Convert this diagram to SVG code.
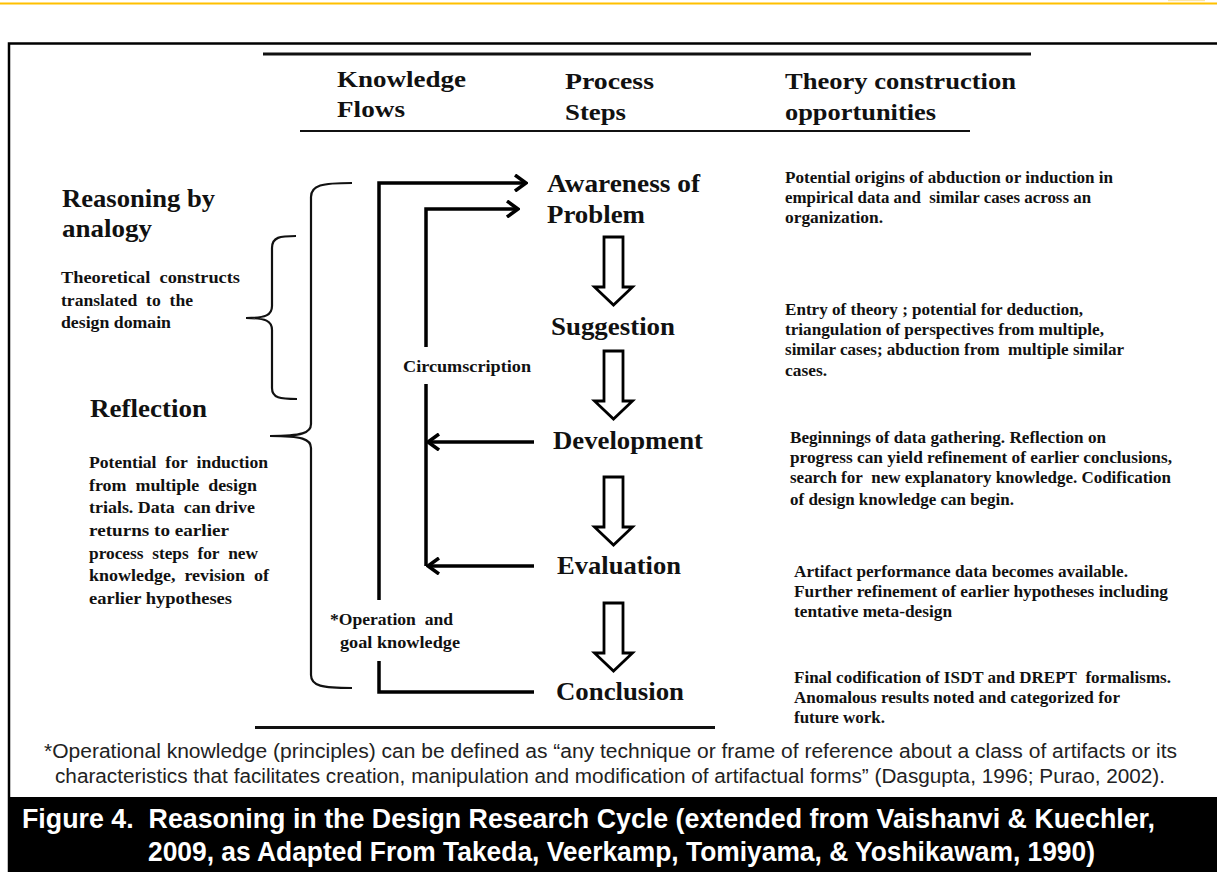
<svg xmlns="http://www.w3.org/2000/svg" width="1217" height="872" viewBox="0 0 1217 872" xml:space="preserve">
  <style>
    .hd { font-family: "Liberation Serif", "Times New Roman", serif; font-weight: bold; font-size: 23.5px; fill: #111; }
    .step { font-family: "Liberation Serif", "Times New Roman", serif; font-weight: bold; font-size: 26px; fill: #111; }
    .big { font-family: "Liberation Serif", "Times New Roman", serif; font-weight: bold; font-size: 25.5px; fill: #111; }
    .sm { font-family: "Liberation Serif", "Times New Roman", serif; font-weight: bold; font-size: 16.5px; fill: #111; }
    .note { font-family: "Liberation Serif", "Times New Roman", serif; font-weight: bold; font-size: 16px; fill: #111; }
    .foot { font-family: "Liberation Sans", Arial, sans-serif; font-size: 19.5px; fill: #222; }
    .cap { font-family: "Liberation Sans", Arial, sans-serif; font-weight: bold; font-size: 28px; fill: #fff; }
    .flow { fill: none; stroke: #000; stroke-width: 3.5; }
    .brace { fill: none; stroke: #111; stroke-width: 2.2; }
    .hollow { fill: #fff; stroke: #000; stroke-width: 2.8; stroke-linejoin: miter; }
    .rule { stroke: #111; fill: none; }
  </style>
  <defs>
    <marker id="open" viewBox="0 0 14 18" refX="12" refY="9" markerWidth="14" markerHeight="18" markerUnits="userSpaceOnUse" orient="auto">
      <path d="M1,1 L12,9 L1,17" fill="none" stroke="#000" stroke-width="3.5"/>
    </marker>
    <path id="downArrow" d="M-9.5,0 L9.5,0 L9.5,50 L19,50 L0,68 L-19,50 L-9.5,50 Z"/>
  </defs>

  <rect width="1217" height="872" fill="#fff"/>
  <!-- page accent line -->
  <rect x="0" y="2.5" width="1217" height="2" fill="#FFC000"/>
  <rect x="1168" y="0" width="37" height="1.2" fill="#FBE7A8"/>

  <!-- figure frame -->
  <path d="M9,872 L9,43.5 L1217,43.5" fill="none" stroke="#000" stroke-width="2.5"/>

  <!-- table rules -->
  <g id="rules">
    <line class="rule" x1="263" y1="54" x2="1031" y2="54" stroke-width="3"/>
    <line class="rule" x1="300" y1="131" x2="970" y2="131" stroke-width="2" stroke="#444"/>
    <line class="rule" x1="255" y1="727.5" x2="715" y2="727.5" stroke-width="3"/>
  </g>

  <!-- column headers -->
  <g id="headers">
    <text class="hd" x="337" y="87" textLength="129" lengthAdjust="spacingAndGlyphs">Knowledge</text>
    <text class="hd" x="337" y="117" textLength="68" lengthAdjust="spacingAndGlyphs">Flows</text>
    <text class="hd" x="565" y="89" textLength="89" lengthAdjust="spacingAndGlyphs">Process</text>
    <text class="hd" x="565" y="120" textLength="61" lengthAdjust="spacingAndGlyphs">Steps</text>
    <text class="hd" x="785" y="89" textLength="231" lengthAdjust="spacingAndGlyphs">Theory construction</text>
    <text class="hd" x="785" y="120" textLength="151" lengthAdjust="spacingAndGlyphs">opportunities</text>
  </g>

  <!-- reasoning labels on the left -->
  <g id="analogy">
    <text class="big" x="62" y="207" textLength="153" lengthAdjust="spacingAndGlyphs">Reasoning by</text>
    <text class="big" x="62" y="237" textLength="90" lengthAdjust="spacingAndGlyphs">analogy</text>
    <text class="sm" x="61" y="283" textLength="179" lengthAdjust="spacingAndGlyphs">Theoretical&#160; constructs</text>
    <text class="sm" x="61" y="306" textLength="132" lengthAdjust="spacingAndGlyphs">translated&#160; to&#160; the</text>
    <text class="sm" x="61" y="328" textLength="110" lengthAdjust="spacingAndGlyphs">design domain</text>
  </g>
  <g id="reflection">
    <text class="big" x="90" y="417" textLength="117" lengthAdjust="spacingAndGlyphs">Reflection</text>
    <text class="sm" x="89" y="468" textLength="179" lengthAdjust="spacingAndGlyphs">Potential&#160; for&#160; induction</text>
    <text class="sm" x="89" y="491" textLength="168" lengthAdjust="spacingAndGlyphs">from&#160; multiple&#160; design</text>
    <text class="sm" x="89" y="513" textLength="166" lengthAdjust="spacingAndGlyphs">trials. Data&#160; can drive</text>
    <text class="sm" x="89" y="536" textLength="140" lengthAdjust="spacingAndGlyphs">returns to earlier</text>
    <text class="sm" x="89" y="559" textLength="169" lengthAdjust="spacingAndGlyphs">process&#160; steps&#160; for&#160; new</text>
    <text class="sm" x="89" y="581" textLength="180" lengthAdjust="spacingAndGlyphs">knowledge,&#160; revision&#160; of</text>
    <text class="sm" x="89" y="604" textLength="143" lengthAdjust="spacingAndGlyphs">earlier hypotheses</text>
  </g>

  <!-- braces -->
  <g id="braces">
    <path class="brace" d="M296,236 C280,236 272,237 272,248 L272,306 C272,315 266,318 246,318 C266,318 272,321 272,330 L272,388 C272,398 280,399 297,399"/>
    <path class="brace" d="M352,183 C322,183 311,185 311,197 L311,424 C311,433 302,436 270,436 C302,436 311,439 311,448 L311,675 C311,686 322,688 352,688"/>
  </g>

  <!-- knowledge flow connectors -->
  <g id="connectors">
    <path class="flow" d="M379,600 L379,183 L526,183" marker-end="url(#open)"/>
    <path class="flow" d="M426,347 L426,209 L518,209" marker-end="url(#open)"/>
    <path class="flow" d="M426,384 L426,566"/>
    <path class="flow" d="M534,442 L428,442" marker-end="url(#open)"/>
    <path class="flow" d="M534,566 L428,566" marker-end="url(#open)"/>
    <path class="flow" d="M379,661 L379,692 L534,692"/>
  </g>
  <g id="flow-labels">
    <text class="sm" x="403" y="372" textLength="128" lengthAdjust="spacingAndGlyphs">Circumscription</text>
    <text class="sm" x="330" y="625" textLength="123" lengthAdjust="spacingAndGlyphs">*Operation&#160; and</text>
    <text class="sm" x="340" y="648" textLength="120" lengthAdjust="spacingAndGlyphs">goal knowledge</text>
  </g>

  <!-- process steps -->
  <g id="step-awareness">
    <text class="step" x="547" y="192" textLength="153" lengthAdjust="spacingAndGlyphs">Awareness of</text>
    <text class="step" x="547" y="223" textLength="98" lengthAdjust="spacingAndGlyphs">Problem</text>
  </g>
  <g id="step-suggestion">
    <text class="step" x="551" y="335" textLength="124" lengthAdjust="spacingAndGlyphs">Suggestion</text>
  </g>
  <g id="step-development">
    <text class="step" x="553" y="449" textLength="150" lengthAdjust="spacingAndGlyphs">Development</text>
  </g>
  <g id="step-evaluation">
    <text class="step" x="557" y="574" textLength="124" lengthAdjust="spacingAndGlyphs">Evaluation</text>
  </g>
  <g id="step-conclusion">
    <text class="step" x="556" y="700" textLength="128" lengthAdjust="spacingAndGlyphs">Conclusion</text>
  </g>

  <!-- hollow step arrows -->
  <g id="step-arrows">
    <use href="#downArrow" class="hollow" transform="translate(613.5,237)"/>
    <use href="#downArrow" class="hollow" transform="translate(613.5,351)"/>
    <use href="#downArrow" class="hollow" transform="translate(613.5,477)"/>
    <use href="#downArrow" class="hollow" transform="translate(613.5,603)"/>
  </g>

  <!-- theory construction notes -->
  <g id="note-awareness">
    <text class="note" x="785" y="183" textLength="328" lengthAdjust="spacingAndGlyphs">Potential origins of abduction or induction in</text>
    <text class="note" x="785" y="203" textLength="306" lengthAdjust="spacingAndGlyphs">empirical data and&#160; similar cases across an</text>
    <text class="note" x="785" y="223" textLength="98" lengthAdjust="spacingAndGlyphs">organization.</text>
  </g>
  <g id="note-suggestion">
    <text class="note" x="785" y="315" textLength="298" lengthAdjust="spacingAndGlyphs">Entry of theory ; potential for deduction,</text>
    <text class="note" x="785" y="335" textLength="319" lengthAdjust="spacingAndGlyphs">triangulation of perspectives from multiple,</text>
    <text class="note" x="785" y="355" textLength="339" lengthAdjust="spacingAndGlyphs">similar cases; abduction from&#160; multiple similar</text>
    <text class="note" x="785" y="376" textLength="42" lengthAdjust="spacingAndGlyphs">cases.</text>
  </g>
  <g id="note-development">
    <text class="note" x="790" y="443" textLength="316" lengthAdjust="spacingAndGlyphs">Beginnings of data gathering. Reflection on</text>
    <text class="note" x="790" y="463" textLength="382" lengthAdjust="spacingAndGlyphs">progress can yield refinement of earlier conclusions,</text>
    <text class="note" x="790" y="483" textLength="381" lengthAdjust="spacingAndGlyphs">search for&#160; new explanatory knowledge. Codification</text>
    <text class="note" x="790" y="505" textLength="224" lengthAdjust="spacingAndGlyphs">of design knowledge can begin.</text>
  </g>
  <g id="note-evaluation">
    <text class="note" x="794" y="577" textLength="334" lengthAdjust="spacingAndGlyphs">Artifact performance data becomes available.</text>
    <text class="note" x="794" y="597" textLength="374" lengthAdjust="spacingAndGlyphs">Further refinement of earlier hypotheses including</text>
    <text class="note" x="794" y="617" textLength="158" lengthAdjust="spacingAndGlyphs">tentative meta-design</text>
  </g>
  <g id="note-conclusion">
    <text class="note" x="794" y="683" textLength="377" lengthAdjust="spacingAndGlyphs">Final codification of ISDT and DREPT&#160; formalisms.</text>
    <text class="note" x="794" y="703" textLength="326" lengthAdjust="spacingAndGlyphs">Anomalous results noted and categorized for</text>
    <text class="note" x="794" y="723" textLength="91" lengthAdjust="spacingAndGlyphs">future work.</text>
  </g>

  <!-- footnote -->
  <g id="footnote">
    <text class="foot" x="44" y="758" textLength="1133" lengthAdjust="spacingAndGlyphs">*Operational knowledge (principles) can be defined as “any technique or frame of reference about a class of artifacts or its</text>
    <text class="foot" x="55" y="783" textLength="1110" lengthAdjust="spacingAndGlyphs">characteristics that facilitates creation, manipulation and modification of artifactual forms” (Dasgupta, 1996; Purao, 2002).</text>
  </g>

  <!-- caption band -->
  <g id="caption">
    <rect x="8" y="797" width="1209" height="75" fill="#000"/>
    <text class="cap" x="22" y="828" textLength="1133" lengthAdjust="spacingAndGlyphs">Figure 4.&#160; Reasoning in the Design Research Cycle (extended from Vaishanvi &amp; Kuechler,</text>
    <text class="cap" x="148" y="861" textLength="947" lengthAdjust="spacingAndGlyphs">2009, as Adapted From Takeda, Veerkamp, Tomiyama, &amp; Yoshikawam, 1990)</text>
  </g>
</svg>
